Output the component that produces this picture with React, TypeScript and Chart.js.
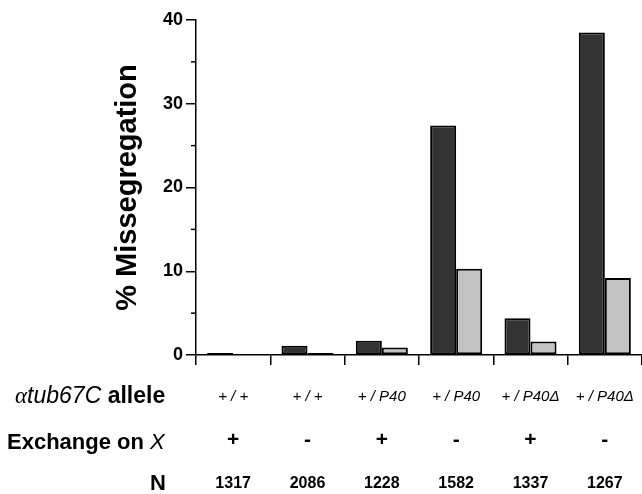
import React, { useEffect, useRef } from "react";
import { Chart, registerables } from "chart.js";

Chart.register(...registerables);

// ---- data ----
const alleles = ["+ / +", "+ / +", "+ / P40", "+ / P40", "+ / P40\u0394", "+ / P40\u0394"];
const exchangeOnX = ["+", "-", "+", "-", "+", "-"];
const sampleSizes = ["1317", "2086", "1228", "1582", "1337", "1267"];
const darkValues = [0.25, 1.1, 1.7, 27.4, 4.4, 38.5];
const lightValues = [0.1, 0.25, 0.9, 10.3, 1.6, 9.2];
const yMajorTicks = [0, 10, 20, 30, 40];
const yMinorTicks = [5, 15, 25, 35];
const yTitle = "% Missegregation";

const SANS = "'Liberation Sans', Arial, Helvetica, sans-serif";
const SERIF = "'Liberation Serif', 'Times New Roman', serif";

const annotate = {
  id: "annotate",
  afterDraw(chart: any) {
    const ctx: CanvasRenderingContext2D = chart.ctx;
    const area = chart.chartArea;
    const xs = chart.scales.x;
    const ys = chart.scales.y;
    ctx.save();
    ctx.fillStyle = "#000";
    ctx.strokeStyle = "#000";
    ctx.lineWidth = 1.5;

    // minor ticks on y axis
    yMinorTicks.forEach((v) => {
      const py = ys.getPixelForValue(v);
      ctx.beginPath();
      ctx.moveTo(area.left - 5, py);
      ctx.lineTo(area.left, py);
      ctx.stroke();
    });

    // y title
    ctx.save();
    ctx.translate(136, (area.top + area.bottom) / 2);
    ctx.rotate(-Math.PI / 2);
    ctx.font = `bold 29px ${SANS}`;
    ctx.textAlign = "center";
    ctx.textBaseline = "alphabetic";
    ctx.fillText(yTitle, 0, 0);
    ctx.restore();

    // row label: alpha-tub67C allele
    ctx.textAlign = "left";
    ctx.textBaseline = "alphabetic";
    let cx = 15;
    const rowY1 = 403;
    ctx.font = `italic 23px ${SERIF}`;
    ctx.fillText("\u03b1", cx, rowY1);
    cx += ctx.measureText("\u03b1").width;
    ctx.font = `italic 23px ${SANS}`;
    ctx.fillText("tub67C", cx, rowY1);
    cx += ctx.measureText("tub67C").width;
    ctx.font = `bold 23px ${SANS}`;
    ctx.fillText(" allele", cx, rowY1);

    // row label: Exchange on X
    cx = 7;
    const rowY2 = 449;
    ctx.font = `bold 22px ${SANS}`;
    ctx.fillText("Exchange on ", cx, rowY2);
    cx += ctx.measureText("Exchange on ").width;
    ctx.font = `italic 22px ${SANS}`;
    ctx.fillText("X", cx, rowY2);

    // row label: N
    ctx.textAlign = "right";
    ctx.font = `bold 22px ${SANS}`;
    ctx.fillText("N", 166, 490);

    // per-category values
    ctx.textAlign = "center";
    alleles.forEach((_, i) => {
      const px = xs.getPixelForValue(i);
      ctx.font = `italic 15px ${SANS}`;
      ctx.textBaseline = "alphabetic";
      ctx.fillText(alleles[i], px, 401);
      ctx.font = `bold 21px ${SANS}`;
      ctx.textBaseline = "middle";
      ctx.fillText(exchangeOnX[i], px, 440);
      ctx.font = `bold 16px ${SANS}`;
      ctx.textBaseline = "alphabetic";
      ctx.fillText(sampleSizes[i], px, 488);
    });
    ctx.restore();
  },
};

export default function App() {
  const ref = useRef<HTMLCanvasElement | null>(null);

  useEffect(() => {
    document.body.style.margin = "0";
    const canvas = ref.current;
    if (!canvas) return;
    const chart = new Chart(canvas, {
      type: "bar",
      data: {
        labels: alleles.map((a, i) => `${a} ${exchangeOnX[i]} ${sampleSizes[i]}`),
        datasets: [
          {
            label: "dark",
            data: darkValues,
            backgroundColor: "#333333",
            borderColor: "#000000",
            borderWidth: 2,
            borderSkipped: false,
            categoryPercentage: 0.7,
            barPercentage: 1.0,
          },
          {
            label: "light",
            data: lightValues,
            backgroundColor: "#c2c2c2",
            borderColor: "#000000",
            borderWidth: 2,
            borderSkipped: false,
            categoryPercentage: 0.7,
            barPercentage: 1.0,
          },
        ],
      },
      options: {
        responsive: false,
        animation: false,
        devicePixelRatio: 1,
        layout: { padding: { left: 0, right: 0, top: 20, bottom: 129 } },
        plugins: {
          legend: { display: false },
          tooltip: { enabled: false },
          title: { display: false },
        },
        scales: {
          x: {
            type: "category",
            grid: {
              display: true,
              offset: true,
              drawOnChartArea: false,
              drawTicks: true,
              tickLength: 10,
              color: "#000",
              lineWidth: 1.5,
            },
            border: { display: true, color: "#000", width: 1.5 },
            ticks: { display: false },
            afterFit: (scale: any) => {
              scale.height = 10;
            },
          },
          y: {
            min: 0,
            max: 40,
            afterBuildTicks: (scale: any) => {
              scale.ticks = yMajorTicks.map((v) => ({ value: v }));
            },
            grid: {
              display: true,
              drawOnChartArea: false,
              drawTicks: true,
              tickLength: 10,
              color: "#000",
              lineWidth: 1.5,
            },
            border: { display: true, color: "#000", width: 1.5 },
            ticks: {
              color: "#000",
              padding: 3,
              font: { family: SANS, size: 18, weight: "bold" },
            },
            afterFit: (scale: any) => {
              scale.width = 196;
            },
          },
        },
      },
      plugins: [annotate],
    });
    return () => chart.destroy();
  }, []);

  return (
    <div style={{ position: "fixed", left: 0, top: 0, width: 642, height: 494, background: "#fff" }}>
      <canvas ref={ref} width={642} height={494} style={{ display: "block", width: 642, height: 494 }} />
    </div>
  );
}
